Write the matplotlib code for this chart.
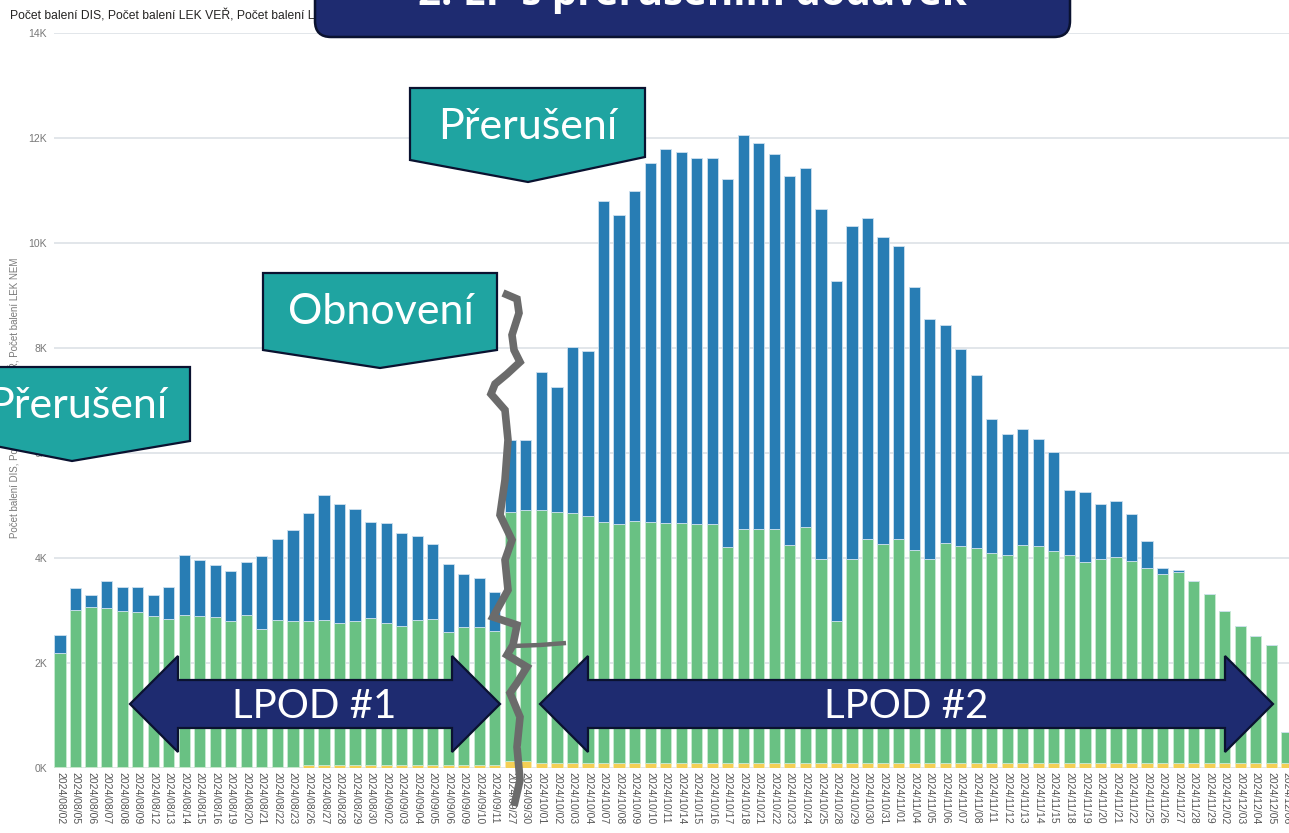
import matplotlib
matplotlib.use("Agg")
import matplotlib.pyplot as plt
import numpy as np
from matplotlib.patches import Polygon, FancyBboxPatch

# ---- data -------------------------------------------------------------
dates = [
    "2024/08/02", "2024/08/05", "2024/08/06", "2024/08/07", "2024/08/08", "2024/08/09",
    "2024/08/12", "2024/08/13", "2024/08/14", "2024/08/15", "2024/08/16",
    "2024/08/19", "2024/08/20", "2024/08/21", "2024/08/22", "2024/08/23",
    "2024/08/26", "2024/08/27", "2024/08/28", "2024/08/29", "2024/08/30",
    "2024/09/02", "2024/09/03", "2024/09/04", "2024/09/05", "2024/09/06",
    "2024/09/09", "2024/09/10", "2024/09/11", "2024/09/27", "2024/09/30",
    "2024/10/01", "2024/10/02", "2024/10/03", "2024/10/04",
    "2024/10/07", "2024/10/08", "2024/10/09", "2024/10/10", "2024/10/11",
    "2024/10/14", "2024/10/15", "2024/10/16", "2024/10/17", "2024/10/18",
    "2024/10/21", "2024/10/22", "2024/10/23", "2024/10/24", "2024/10/25",
    "2024/10/28", "2024/10/29", "2024/10/30", "2024/10/31", "2024/11/01",
    "2024/11/04", "2024/11/05", "2024/11/06", "2024/11/07", "2024/11/08",
    "2024/11/11", "2024/11/12", "2024/11/13", "2024/11/14", "2024/11/15",
    "2024/11/18", "2024/11/19", "2024/11/20", "2024/11/21", "2024/11/22",
    "2024/11/25", "2024/11/26", "2024/11/27", "2024/11/28", "2024/11/29",
    "2024/12/02", "2024/12/03", "2024/12/04", "2024/12/05", "2024/12/06",
]

pocet_dis = [10] * 16 + [55] * 13 + [120, 120] + [90] * 49

pocet_lek_ver = [
    2170, 2990, 3045, 3025, 2975, 2950, 2875, 2815, 2905, 2885, 2855,
    2785, 2895, 2630, 2800, 2780, 2740, 2755, 2705, 2735, 2795,
    2705, 2645, 2755, 2770, 2535, 2620, 2620, 2550, 4755, 4790,
    4820, 4785, 4755, 4705, 4595, 4555, 4615, 4585, 4565,
    4565, 4555, 4555, 4120, 4465, 4450, 4450, 4160, 4490, 3885,
    2705, 3885, 4260, 4170, 4260, 4055, 3885, 4190, 4125, 4090,
    3995, 3960, 4160, 4135, 4035, 3965, 3820, 3885, 3920, 3850,
    3715, 3595, 3645, 3465, 3210, 2890, 2610, 2420, 2255, 585,
]

pocet_lek_nem = [
    350, 430, 240, 525, 465, 490, 410, 620, 1135, 1055, 995,
    950, 1010, 1390, 1545, 1735, 2065, 2375, 2260, 2140, 1835,
    1905, 1765, 1595, 1430, 1290, 1020, 945, 735, 1365, 1335,
    2635, 2380, 3160, 3145, 6110, 5880, 6285, 6845, 7135,
    7075, 6965, 6965, 7010, 7495, 7355, 7150, 7030, 6840, 6660,
    6470, 6345, 6115, 5850, 5595, 5005, 4565, 4150, 3755, 3305,
    2560, 2305, 2205, 2040, 1895, 1235, 1345, 1055, 1070, 885,
    505, 125, 40, 10, 0, 0, 0, 0, 0, 0,
]

y_ticks = [0, 2000, 4000, 6000, 8000, 10000, 12000, 14000]
y_tick_labels = ["0K", "2K", "4K", "6K", "8K", "10K", "12K", "14K"]

series_title = "Počet balení DIS, Počet balení LEK VEŘ, Počet balení LEK NEM"

# ---- figure -----------------------------------------------------------
W, H = 1289, 833
plt.rcParams["font.family"] = ["Liberation Sans", "DejaVu Sans"]
fig = plt.figure(figsize=(W / 100, H / 100), dpi=100)
fig.patch.set_facecolor("white")

ax = fig.add_axes([54 / W, (H - 767.7) / H, (W - 54) / W, (767.7 - 32.7) / H])
x = np.arange(len(dates))
dis = np.array(pocet_dis)
ver = np.array(pocet_lek_ver)
nem = np.array(pocet_lek_nem)

bw = 0.72
ax.bar(x, dis, width=bw, color="#F4CF55", edgecolor="#fbe9b0", linewidth=0.5, zorder=3)
ax.bar(x, ver, width=bw, bottom=dis, color="#69C183", edgecolor="#c9ebd3", linewidth=0.6, zorder=3)
ax.bar(x, nem, width=bw, bottom=dis + ver, color="#287DB4", edgecolor="#cde0ef", linewidth=0.6, zorder=3)

ax.set_xlim(-0.386, 79.14)
ax.set_ylim(0, 14000)
ax.set_yticks(y_ticks)
ax.set_yticklabels(y_tick_labels, fontsize=7.5, color="#777777")
ax.set_xticks(x)
ax.set_xticklabels(dates, rotation=270, fontsize=7.5, color="#555555", va="top", ha="center")
ax.tick_params(axis="both", length=0)
ax.tick_params(axis="y", pad=5)
ax.tick_params(axis="x", pad=3)
ax.grid(axis="y", color="#e2e6ea", linewidth=1.4, zorder=0)
ax.set_axisbelow(True)
for s in ax.spines.values():
    s.set_visible(False)

fig.text(10 / W, 1 - 16 / H, series_title, fontsize=8.7, color="#252423",
         ha="left", va="center")
fig.text(14 / W, 1 - 398 / H, series_title, fontsize=7, color="#7a7a7a",
         rotation=90, ha="center", va="center")

# ---- slide annotations (pixel coordinates) ----------------------------
ov = fig.add_axes([0, 0, 1, 1], zorder=5)
ov.set_xlim(0, W)
ov.set_ylim(H, 0)
ov.axis("off")
ov.patch.set_alpha(0)

navy = "#1E2B70"
navy_edge = "#0A1230"
teal = "#1FA4A1"

# heading banner
banner = FancyBboxPatch((315, -60), 755, 97,
                        boxstyle="round,pad=0,rounding_size=16",
                        facecolor=navy, edgecolor=navy_edge, linewidth=1.8)
ov.add_patch(banner)
ov.text(692, 5, "2. LP s přerušením dodávek", color="white", fontsize=29,
        fontweight="bold", ha="center", va="baseline", family=["Open Sans", "DejaVu Sans"])


def callout(x0, x1, top, side_l, side_r, tip, label, tx, ty):
    pts = [(x0, top), (x1, top), (x1, side_r), tip, (x0, side_l)]
    ov.add_patch(Polygon(pts, closed=True, facecolor=teal, edgecolor=navy_edge,
                         linewidth=1.6, joinstyle="miter"))
    ov.text(tx, ty, label, color="white", fontsize=31, ha="center", va="center",
            family=["Lato", "DejaVu Sans"])


callout(410, 645, 88, 160, 157, (528, 182), "Přerušení", 528, 127)
callout(263, 497, 273, 350, 350, (380, 368), "Obnovení", 381, 312)
callout(-30, 190, 367, 441, 441, (72, 461), "Přerušení", 78, 406)


def double_arrow(xl, xr, label, tx):
    yc, bh, hh, hl = 704, 24, 48, 48
    pts = [(xl, yc), (xl + hl, yc - hh), (xl + hl, yc - bh), (xr - hl, yc - bh),
           (xr - hl, yc - hh), (xr, yc), (xr - hl, yc + hh), (xr - hl, yc + bh),
           (xl + hl, yc + bh), (xl + hl, yc + hh)]
    ov.add_patch(Polygon(pts, closed=True, facecolor=navy, edgecolor=navy_edge,
                         linewidth=1.6, joinstyle="miter"))
    ov.text(tx, yc + 2, label, color="white", fontsize=29, ha="center", va="center",
            family=["Lato", "DejaVu Sans"])


double_arrow(130, 500, "LPOD #1", 314)
double_arrow(540, 1273, "LPOD #2", 906)

# crack line separating the two periods
crack = [(503, 293), (517, 299), (519, 313), (512, 335), (514, 350), (520, 362),
         (507, 374), (495, 384), (491, 394), (505, 410), (508, 440), (505, 480),
         (500, 515), (512, 540), (505, 560), (508, 590), (493, 617), (517, 625),
         (513, 645), (507, 655), (527, 667), (517, 683), (510, 693), (520, 717),
         (517, 747), (520, 780), (514, 806)]
cx, cy = zip(*crack)
ov.plot(cx, cy, color="#6B6B6B", linewidth=5.5, solid_joinstyle="miter",
        solid_capstyle="butt")
ov.plot([513, 540, 566], [646, 645, 643], color="#6B6B6B", linewidth=3.2,
        solid_capstyle="butt")

fig.savefig("out.png", dpi=100)
